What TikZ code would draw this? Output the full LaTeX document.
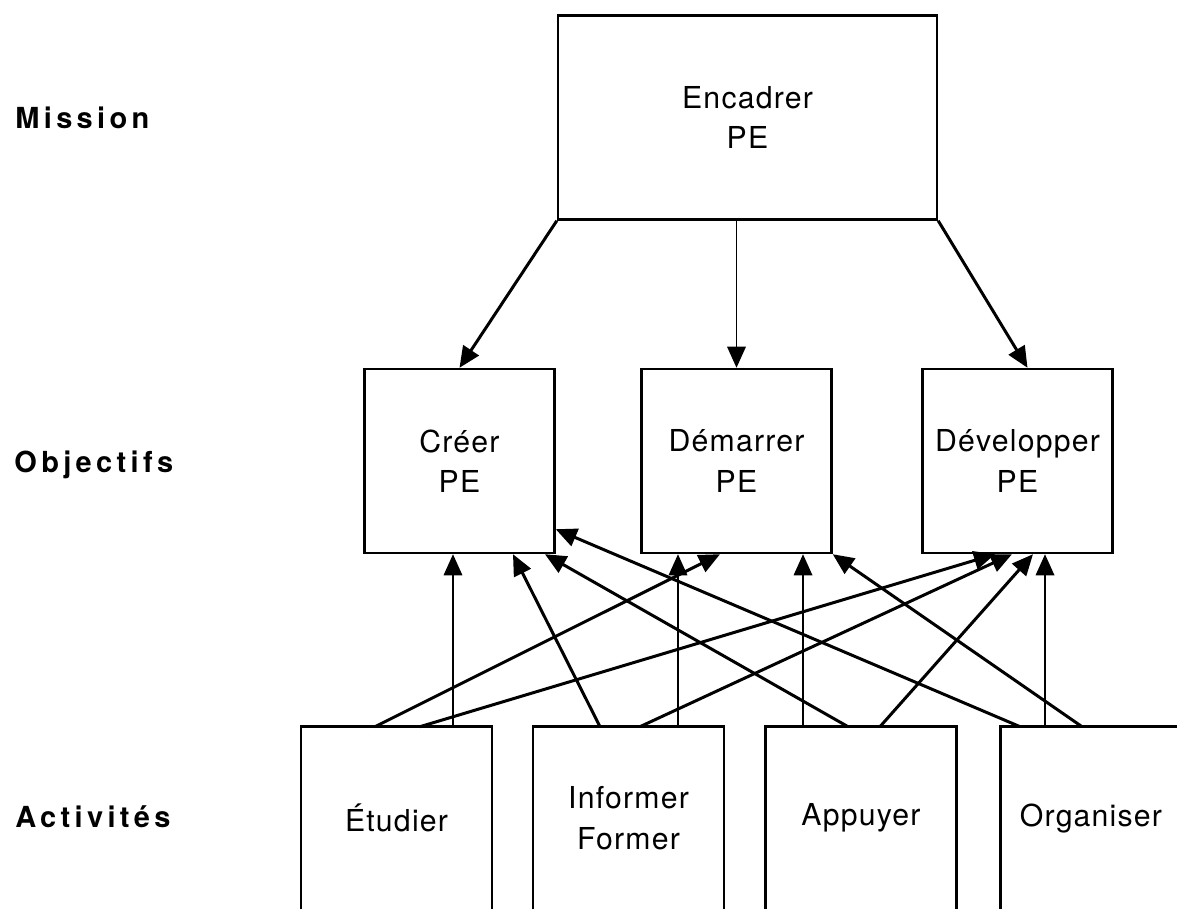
\documentclass[tikz,border=0pt]{standalone}
\usepackage{fontspec}
\setmainfont[LetterSpace=4]{TeX Gyre Heros}
\newfontfamily\rowfont[LetterSpace=15]{TeX Gyre Heros}
\usetikzlibrary{arrows.meta,positioning}

\begin{document}
\begin{tikzpicture}[x=0.02cm,y=-0.02cm,
  >={Triangle[length=12pt,width=10.5pt]},
  box/.style={draw,line width=1.4pt,inner sep=0pt,align=center,
    font=\fontsize{17.2}{23}\selectfont},
  objbox/.style={box,minimum width=3.8cm,minimum height=3.68cm},
  actbox/.style={inner sep=0pt,align=center,minimum width=3.8cm,minimum height=3.64cm,
    font=\fontsize{17.2}{23}\selectfont},
  boxline/.style={line width=1.4pt},
  rowlabel/.style={anchor=west,inner sep=0pt,
    font=\rowfont\bfseries\fontsize{16.5}{20}\selectfont},
  link/.style={->,line width=1.7pt},
  vlink/.style={->,line width=1.1pt}]

\useasboundingbox (0,0) rectangle (1177,909);
\clip (0,0) rectangle (1177,909);

% levels
\node[rowlabel] (mission)   at (15,118) {Mission};
\node[rowlabel] (objectifs) at (14,465) {Objectifs};
\node[rowlabel] (activites) at (15,817) {Activités};

% mission
\node[box,minimum width=7.58cm,minimum height=4.08cm] (encadrer) at (747.5,117.5) {Encadrer\\PE};

% objectifs
\node[objbox] (creer)      at (459.5,461)  {Créer\\PE};
\node[objbox] (demarrer)   at (736.5,461)  {Démarrer\\PE};
\node[objbox] (developper) at (1017.5,461) {Développer\\PE};

% activites (open at the bottom)
\node[actbox] (etudier)  at (396.5,818) {Étudier};
\node[actbox] (informer) at (628.5,818) {Informer\\Former};
\node[actbox] (appuyer)  at (861,818)   {Appuyer};
\node[actbox,minimum width=3.6cm] (organiser) at (1091,818) {Organiser};
\foreach \n in {etudier,informer,appuyer,organiser}
  \draw[boxline] (\n.south west) |- (\n.north east) -- (\n.south east);

% mission -> objectifs
\draw[link] (encadrer.south west) -- (creer.north);
\draw[vlink] (demarrer.north |- encadrer.south) -- (demarrer.north);
\draw[link] (encadrer.south east) -- ([xshift=0.2cm]developper.north);

% activites -> objectifs
\draw[link] ([xshift=-0.43cm]etudier.north) -- ([xshift=-0.33cm]demarrer.south);
\draw[link] ([xshift=0.47cm]etudier.north) -- ([xshift=-0.45cm]developper.south);
\draw[vlink] ([xshift=1.13cm]etudier.north) -- ([xshift=1.13cm]etudier.north |- creer.south);

\draw[link] ([xshift=-0.57cm]informer.north) -- ([xshift=1.07cm]creer.south);
\draw[link] ([xshift=0.23cm]informer.north) -- ([xshift=-0.11cm]developper.south);
\draw[vlink] ([xshift=0.99cm]informer.north) -- ([xshift=0.99cm]informer.north |- demarrer.south);

\draw[vlink] ([xshift=-1.16cm]appuyer.north) -- ([xshift=-1.16cm]appuyer.north |- demarrer.south);
\draw[link] ([xshift=-0.26cm]appuyer.north) -- ([xshift=1.71cm]creer.south);
\draw[link] ([xshift=0.38cm]appuyer.north) -- ([xshift=0.31cm]developper.south);

\draw[link] ([xshift=-1.42cm]organiser.north) -- ([yshift=0.5cm]creer.south east);
\draw[vlink] ([xshift=-0.92cm]organiser.north) -- ([xshift=-0.92cm]organiser.north |- developper.south);
\draw[link] ([xshift=-0.18cm]organiser.north) -- (demarrer.south east);
\end{tikzpicture}
\end{document}
